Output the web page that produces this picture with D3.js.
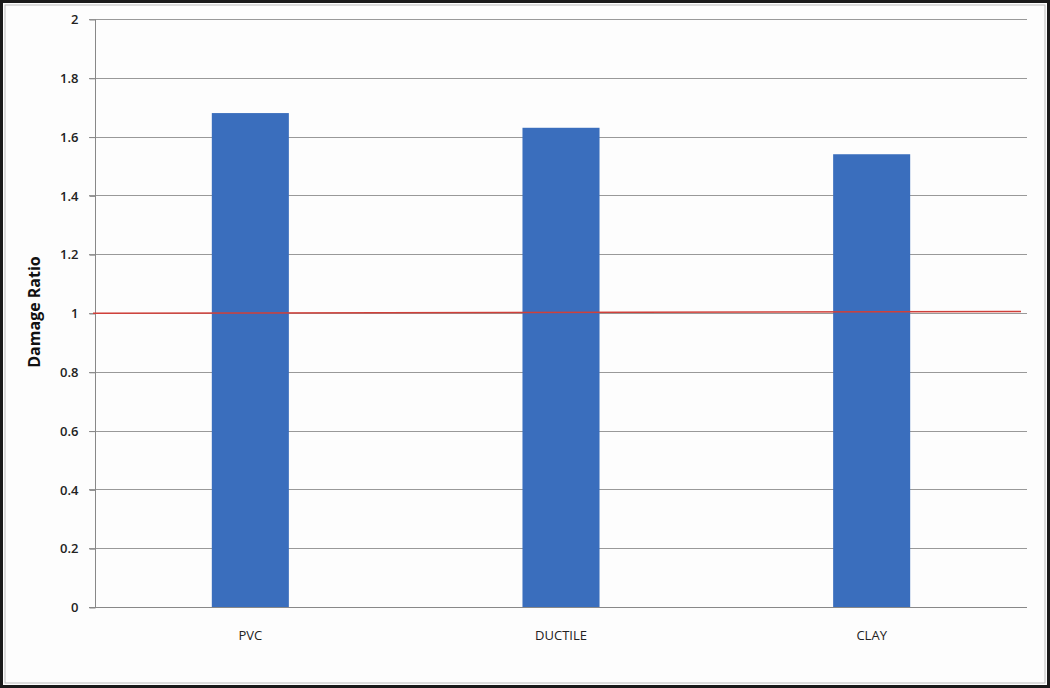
<!DOCTYPE html>
<html>
<head>
<meta charset="utf-8">
<script src="https://cdn.jsdelivr.net/npm/d3@7"></script>
<style>
  html, body { margin: 0; padding: 0; background: #fff; }
  svg { display: block; }
</style>
</head>
<body>
<svg id="chart" width="1050" height="688"></svg>
<script>
const categories = ["PVC", "DUCTILE", "CLAY"];
const damageRatio = [1.68, 1.63, 1.54];
const yTicks = [0, 0.2, 0.4, 0.6, 0.8, 1, 1.2, 1.4, 1.6, 1.8, 2];
const refLine = [0.999, 1.005]; // reference line at 1 (read at left and right ends)

const W = 1050, H = 688;
const svg = d3.select("#chart");

// frame
svg.append("rect").attr("x", 0).attr("y", 0).attr("width", W).attr("height", H).attr("fill", "#fdfdfd");
svg.append("rect").attr("x", 1.5).attr("y", 1.5).attr("width", W - 3).attr("height", H - 3)
  .attr("fill", "none").attr("stroke", "#1a1a1a").attr("stroke-width", 3);
svg.append("rect").attr("x", 5).attr("y", 5).attr("width", W - 10).attr("height", H - 10)
  .attr("fill", "none").attr("stroke", "#bbb").attr("stroke-width", 1);

const m = { left: 95, right: 1027, top: 19, bottom: 607 };

const x = d3.scaleBand().domain(categories).range([m.left, m.right])
  .paddingInner(0.752).paddingOuter(0.376);
const y = d3.scaleLinear().domain([0, 2]).range([m.bottom, m.top]);

const font = "'Open Sans', 'Liberation Sans', sans-serif";

// gridlines
svg.append("g").selectAll("line").data(yTicks.filter(d => d !== 0)).join("line")
  .attr("x1", m.left - 6).attr("x2", m.right)
  .attr("y1", d => Math.round(y(d)) + 0.5).attr("y2", d => Math.round(y(d)) + 0.5)
  .attr("stroke", "#999").attr("stroke-width", 1);

// y axis
const yAxis = d3.axisLeft(y).tickValues(yTicks).tickSize(6).tickPadding(11)
  .tickFormat(d => d3.format("~g")(d));
const gy = svg.append("g").attr("transform", `translate(${m.left + 0.5},0.5)`).call(yAxis);
gy.select(".domain").attr("stroke", "#888").attr("d", `M0,${m.top}V${m.bottom}`);
gy.selectAll(".tick line").attr("stroke", "#888");
gy.selectAll(".tick text").attr("fill", "#222").style("font-family", font)
  .style("font-size", "13px").style("font-weight", "600");

// bars
svg.append("g").selectAll("rect").data(categories).join("rect")
  .attr("x", d => x(d)).attr("width", x.bandwidth())
  .attr("y", (d, i) => y(damageRatio[i]))
  .attr("height", (d, i) => y(0) - y(damageRatio[i]))
  .attr("fill", "#3a6ebd");

// x axis
const xAxis = d3.axisBottom(x).tickSize(0).tickPadding(23);
const gx = svg.append("g").attr("transform", `translate(0,${m.bottom + 0.5})`).call(xAxis);
gx.select(".domain").attr("stroke", "#888").attr("d", `M${m.left - 6},0H${m.right}`);
gx.selectAll(".tick text").attr("fill", "#222").style("font-family", font)
  .style("font-size", "13px").style("font-weight", "500");

// reference line at 1
const xl = d3.scaleLinear().domain([0, 1]).range([m.left - 2, 1021]);
svg.append("path").datum(refLine)
  .attr("d", d3.line().x((d, i) => xl(i)).y(d => y(d)))
  .attr("stroke", "#d0403a").attr("stroke-width", 1.5).attr("fill", "none");

// y title
svg.append("text")
  .attr("transform", `translate(40,312) rotate(-90)`)
  .attr("text-anchor", "middle")
  .style("font-family", font).style("font-size", "16px").style("font-weight", "bold")
  .attr("fill", "#111").text("Damage Ratio");
</script>
</body>
</html>
